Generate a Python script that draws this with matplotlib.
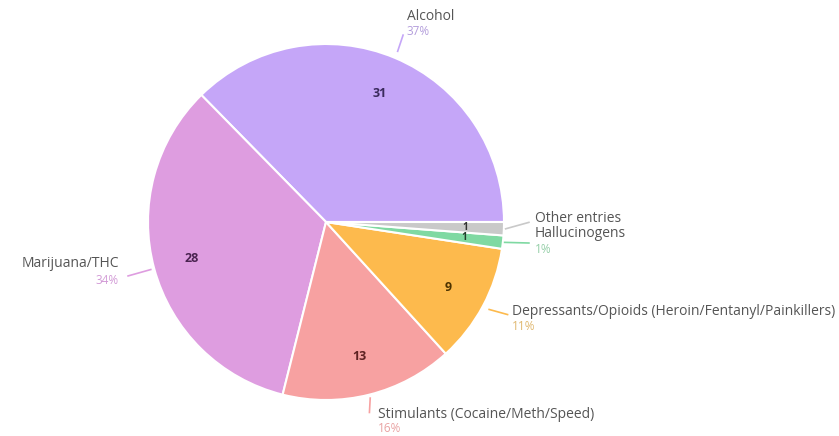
import numpy as np
import matplotlib
matplotlib.use("Agg")
import matplotlib.pyplot as plt

categories = ["Alcohol", "Marijuana/THC", "Stimulants (Cocaine/Meth/Speed)",
              "Depressants/Opioids (Heroin/Fentanyl/Painkillers)", "Hallucinogens", "Other entries"]
counts = [31, 28, 13, 9, 1, 1]
colors = ["#c5a6f8", "#de9de0", "#f7a1a1", "#fdba4d", "#7fd9a2", "#c9c9c9"]
value_colors = ["#3a2a5c", "#4a2350", "#5e2222", "#4d3300", "#233d2c", "#333333"]
pct_colors = ["#b39ddb", "#d29ad6", "#e9a3a3", "#e0b870", "#95cfa8", "#bbbbbb"]

plt.rcParams['font.family'] = ['Open Sans', 'DejaVu Sans']

W, H = 839, 436
fig = plt.figure(figsize=(W / 100, H / 100), dpi=100)
ax = fig.add_axes([0, 0, 1, 1])

cx, cy, R = 326, 222, 178
total = sum(counts)

wedges, texts, autotexts = ax.pie(
    counts, colors=colors, startangle=0, counterclock=True,
    wedgeprops=dict(edgecolor="white", linewidth=1.5),
    autopct=lambda p: f"{int(round(p * total / 100))}",
    pctdistance=0.78, textprops=dict(fontsize=9),
)
for t, c, n in zip(autotexts, value_colors, counts):
    t.set_color(c)
    t.set_fontweight("bold")
    if n / total < 0.03:
        t.set_fontsize(7)

ax.set_xlim(-cx / R, (W - cx) / R)
ax.set_ylim(-(H - cy) / R, cy / R)
ax.set_aspect("equal", adjustable="box")
ax.axis("off")

# label layout: (edge radius, elbow point, text x, name y, ha, pct gap px, show pct)
layout = [
    dict(p0=1.04, elbow=(0.433, 1.05), tx=0.455, ty=1.152, ha="left", gap=15, pct=True),
    dict(p0=1.02, elbow=(-1.112, -0.303), tx=-1.165, ty=-0.232, ha="right", gap=17, pct=True),
    dict(p0=1.02, elbow=(0.244, -1.07), tx=0.292, ty=-1.08, ha="left", gap=14, pct=True),
    dict(p0=1.04, elbow=(1.02, -0.52), tx=1.045, ty=-0.50, ha="left", gap=15, pct=True),
    dict(p0=1.01, elbow=(1.14, -0.118), tx=1.174, ty=-0.062, ha="left", gap=16, pct=True),
    dict(p0=1.01, elbow=(1.14, -0.002), tx=1.174, ty=0.022, ha="left", gap=15, pct=False),
]

for w, cat, n, col, pc, lay in zip(wedges, categories, counts, colors, pct_colors, layout):
    mid = np.deg2rad((w.theta1 + w.theta2) / 2)
    x0, y0 = lay["p0"] * np.cos(mid), lay["p0"] * np.sin(mid)
    ex, ey = lay["elbow"]
    ax.plot([x0, ex], [y0, ey], color=col, lw=1.2, clip_on=False)
    ax.text(lay["tx"], lay["ty"], cat, ha=lay["ha"], va="center", fontsize=10,
            color="#555555")
    if lay["pct"]:
        ax.text(lay["tx"], lay["ty"] - lay["gap"] / R, f"{round(100 * n / total)}%",
                ha=lay["ha"], va="center", fontsize=8.5, color=pc)

fig.savefig("out.png", dpi=100)
